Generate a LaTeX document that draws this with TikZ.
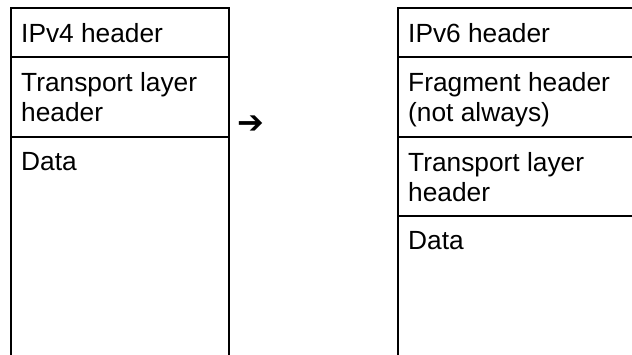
\documentclass[tikz,border=0pt]{standalone}
\usepackage{fontspec}
\setmainfont{Liberation Sans}
\newfontfamily\arrowfont{DejaVu Sans}
\usetikzlibrary{positioning}
\tikzstyle{cell} = [rectangle, draw=black, line width=1.8pt, inner sep=0pt, outer sep=0pt, minimum width=218pt]
\tikzstyle{wide} = [cell, minimum width=300pt]
\tikzstyle{txt} = [anchor=north west, inner sep=0pt, align=left, font=\fontsize{26.3}{30}\selectfont, xshift=10pt, yshift=-15pt]
\begin{document}
\begin{tikzpicture}[x=1pt,y=-1pt]
\useasboundingbox (0,0) rectangle (632,354);

\node (v4hdr) [cell, minimum height=49pt, anchor=north west, label={[txt]north west:IPv4 header}] at (11,8) {};
\node (v4tp) [cell, minimum height=80pt, below=0pt of v4hdr, label={[txt]north west:{Transport layer\\header}}] {};
\node (v4data) [cell, minimum height=243pt, below=0pt of v4tp, label={[txt]north west:Data}] {};

\node (arr) [font=\arrowfont\fontsize{32}{32}\selectfont] at (251,125) {➔};

\node (v6hdr) [wide, minimum height=49pt, anchor=north west, label={[txt]north west:IPv6 header}] at (398,8) {};
\node (frag) [wide, minimum height=80pt, below=0pt of v6hdr, label={[txt]north west:{Fragment header\\(not always)}}] {};
\node (v6tp) [wide, minimum height=79pt, below=0pt of frag, label={[txt]north west:{Transport layer\\header}}] {};
\node (v6data) [wide, minimum height=164pt, below=0pt of v6tp, label={[txt]north west:Data}] {};

\end{tikzpicture}
\end{document}
